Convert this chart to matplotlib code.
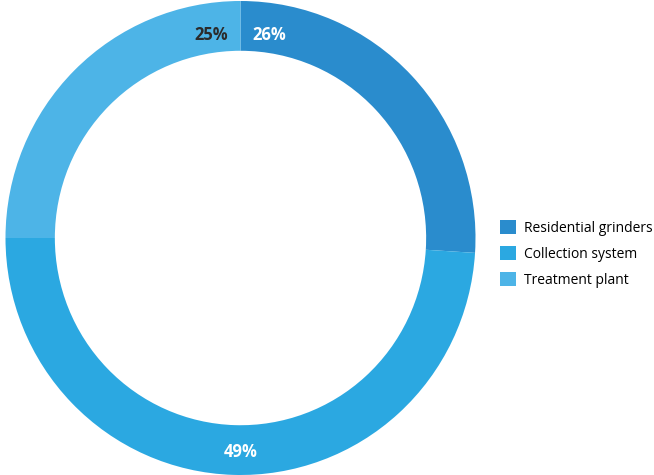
import matplotlib
matplotlib.use("Agg")
import matplotlib.pyplot as plt
import numpy as np
from matplotlib.patches import Patch

categories = ["Residential grinders", "Collection system", "Treatment plant"]
values = [26, 49, 25]
labels = ["26%", "49%", "25%"]
colors = ["#2a8ccd", "#2ba8e1", "#4db4e7"]
label_colors = ["white", "white", "#2b2b2b"]

W, H = 654, 475
fig = plt.figure(figsize=(W / 100, H / 100), dpi=100)
cx, cy = 240.5, 238
rx, ry = 235, 237
ax = fig.add_axes([(cx - rx) / W, (H - cy - ry) / H, 2 * rx / W, 2 * ry / H])

width = 0.21
wedges, _ = ax.pie(values, colors=colors, startangle=90, counterclock=False,
                   radius=1, wedgeprops=dict(width=width, linewidth=0),
                   normalize=True)
ax.set_aspect("auto")
ax.set_xlim(-1, 1)
ax.set_ylim(-1, 1)
ax.axis("off")

font = "Open Sans"
label_pos = [(90 - 8.2, 0.865), (-90, 0.905), (90 + 8.2, 0.865)]
for lab, (ang, r), col in zip(labels, label_pos, label_colors):
    a = np.deg2rad(ang)
    ax.text(r * np.cos(a), r * np.sin(a), lab, ha="center", va="center",
            fontsize=12, fontweight="bold", color=col, family=font)

handles = [Patch(facecolor=c, edgecolor="none") for c in colors]
fig.legend(handles, categories, loc="center left", bbox_to_anchor=(500 / W, 1 - 254 / H),
           frameon=False, handlelength=1.15, handleheight=1.15,
           handletextpad=0.55, labelspacing=0.75, borderaxespad=0, borderpad=0,
           prop=dict(family="Open Sans", size=10))
fig.savefig("out.png", dpi=100, facecolor="white")
